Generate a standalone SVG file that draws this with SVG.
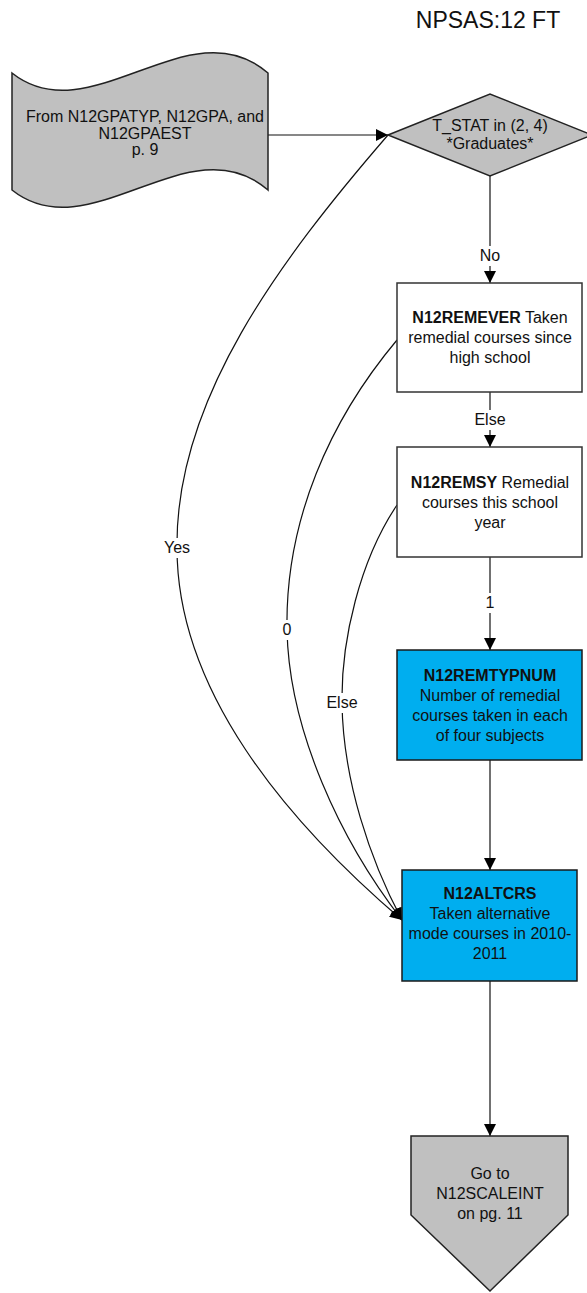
<svg xmlns="http://www.w3.org/2000/svg" width="587" height="1293" viewBox="0 0 587 1293">
<style>
text{font-family:"Liberation Sans",Arial,sans-serif;font-size:16px;fill:#111;text-anchor:middle}
.b{font-weight:bold}
.gray{fill:#C0C0C0;stroke:#222;stroke-width:1.5}
.white{fill:#fff;stroke:#333;stroke-width:1.5}
.blue{fill:#00AEEF;stroke:#1a1a1a;stroke-width:1.5}
.ln{fill:none;stroke:#111;stroke-width:1.2}
.lbg{fill:#fff}
</style>
<defs>
<marker id="ah" markerUnits="userSpaceOnUse" markerWidth="12" markerHeight="12" viewBox="0 0 12 12" refX="12" refY="6" orient="auto">
<path d="M0,0 L12,6 L0,12 Z" fill="#000"/>
</marker>
</defs>
<rect width="587" height="1293" fill="#fff"/>
<text x="488" y="28" style="font-size:23px">NPSAS:12 FT</text>

<g id="connectors">
<path class="ln" d="M268,135 L388,135" marker-end="url(#ah)"/>
<path class="ln" d="M490,176 L490,283" marker-end="url(#ah)"/>
<path class="ln" d="M490,392 L490,447" marker-end="url(#ah)"/>
<path class="ln" d="M490,557 L490,650" marker-end="url(#ah)"/>
<path class="ln" d="M490,760 L490,870" marker-end="url(#ah)"/>
<path class="ln" d="M490,981 L490,1136" marker-end="url(#ah)"/>
<path class="ln" d="M388,135 C280,260 175,400 177,548 C177,690 285,820 402,920" marker-end="url(#ah)"/>
<path class="ln" d="M397,340 C330,420 285,520 287,630 C289,730 340,840 402,920" marker-end="url(#ah)"/>
<path class="ln" d="M397,505 C360,560 341,640 342,703 C343,780 370,860 402,920" marker-end="url(#ah)"/>
<rect class="lbg" x="477" y="246" width="26" height="20"/>
<text x="490" y="261">No</text>
<rect class="lbg" x="473" y="410" width="34" height="20"/>
<text x="490" y="425">Else</text>
<rect class="lbg" x="484" y="593" width="12" height="20"/>
<text x="490" y="608">1</text>
<rect class="lbg" x="162" y="538" width="30" height="20"/>
<text x="177" y="553">Yes</text>
<rect class="lbg" x="281" y="620" width="12" height="20"/>
<text x="287" y="635">0</text>
<rect class="lbg" x="325" y="693" width="34" height="20"/>
<text x="342" y="708">Else</text>
</g>

<g id="doc">
<path class="gray" d="M12,73 C90,135 190,5 268,73 L268,190 C190,122 90,252 12,190 Z"/>
<text x="145" y="122">From N12GPATYP, N12GPA, and</text>
<text x="145" y="139">N12GPAEST</text>
<text x="145" y="155">p. 9</text>
</g>

<g id="decision">
<path class="gray" d="M388,135 L490,94 L592,135 L490,176 Z"/>
<text x="490" y="131">T_STAT in (2, 4)</text>
<text x="490" y="149">*Graduates*</text>
</g>

<g id="remever">
<rect class="white" x="397" y="283" width="185" height="109"/>
<text x="490" y="323"><tspan class="b">N12REMEVER</tspan> Taken</text>
<text x="490" y="343">remedial courses since</text>
<text x="490" y="363">high school</text>
</g>

<g id="remsy">
<rect class="white" x="397" y="447" width="185" height="110"/>
<text x="490" y="488"><tspan class="b">N12REMSY</tspan> Remedial</text>
<text x="490" y="508">courses this school</text>
<text x="490" y="528">year</text>
</g>

<g id="remtypnum">
<rect class="blue" x="397" y="650" width="185" height="110"/>
<text x="490" y="681" class="b">N12REMTYPNUM</text>
<text x="490" y="701">Number of remedial</text>
<text x="490" y="721">courses taken in each</text>
<text x="490" y="741">of four subjects</text>
</g>

<g id="altcrs">
<rect class="blue" x="402" y="870" width="175" height="111"/>
<text x="490" y="899" class="b">N12ALTCRS</text>
<text x="490" y="919">Taken alternative</text>
<text x="490" y="939">mode courses in 2010-</text>
<text x="490" y="959">2011</text>
</g>

<g id="offpage">
<path class="gray" d="M411,1136 L568,1136 L568,1215 L490,1291 L411,1215 Z"/>
<text x="490" y="1179">Go to</text>
<text x="490" y="1199">N12SCALEINT</text>
<text x="490" y="1219">on pg. 11</text>
</g>
</svg>
